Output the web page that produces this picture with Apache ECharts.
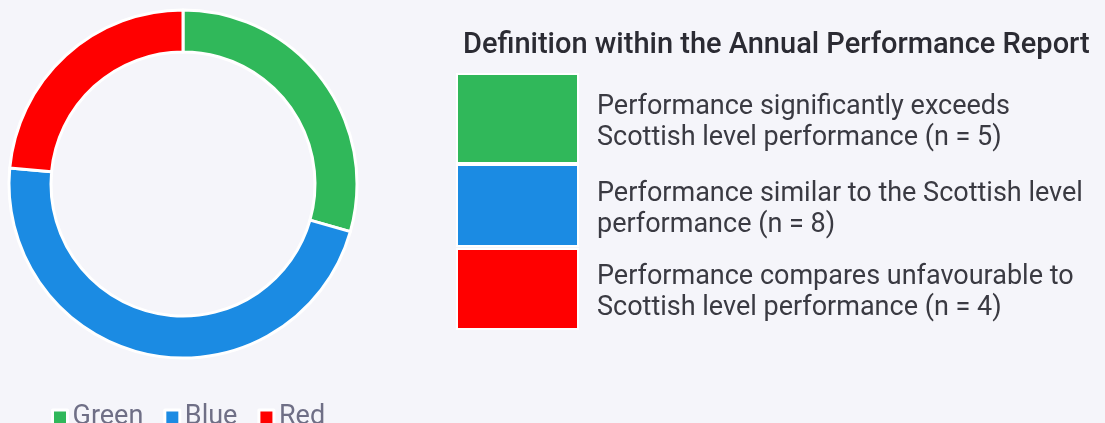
<!DOCTYPE html>
<html>
<head>
<meta charset="utf-8">
<script src="https://cdn.jsdelivr.net/npm/echarts@6/dist/echarts.min.js"></script>
<style>
  html, body { margin: 0; padding: 0; background: #f5f5fa; }
  #chart { width: 1105px; height: 423px; }
</style>
</head>
<body>
<div id="chart"></div>
<script>
// RAG categories and the number of indicators in each
const categories = ['Green', 'Blue', 'Red'];
const counts = [5, 8, 4];
const colors = ['#30b85a', '#1b8be3', '#ff0000'];

// Key table: heading and the wording for each category
const heading = 'Definition within the Annual Performance Report';
const descriptions = [
  ['Performance significantly exceeds', 'Scottish level performance'],
  ['Performance similar to the Scottish level', 'performance'],
  ['Performance compares unfavourable to', 'Scottish level performance']
];

const FONT = 'Roboto, "Noto Sans", sans-serif';

// Key table layout: colour swatch column and text column
const swatchX = 457, swatchW = 121;
const rowTops = [74, 165, 249];
const rowHeights = [89, 81, 80];
const textX = 597;

const graphics = [{
  type: 'text',
  style: {
    text: heading, x: 463, y: 46,
    fontFamily: FONT, fontSize: 29, fontWeight: 500,
    fill: '#2b2b33', verticalAlign: 'middle'
  }
}];

categories.forEach((c, i) => {
  graphics.push({
    type: 'rect',
    shape: { x: swatchX, y: rowTops[i], width: swatchW, height: rowHeights[i] },
    style: { fill: colors[i], stroke: '#ffffff', lineWidth: 2 }
  });
  graphics.push({
    type: 'text',
    style: {
      text: descriptions[i][0] + '\n' + descriptions[i][1] + ' (n = ' + counts[i] + ')',
      x: textX, y: rowTops[i] + rowHeights[i] / 2 + 4,
      fontFamily: FONT, fontSize: 27, lineHeight: 31,
      fill: '#3a3a42', verticalAlign: 'middle'
    }
  });
});

const chart = echarts.init(document.getElementById('chart'));
chart.setOption({
  backgroundColor: '#f5f5fa',
  animation: false,
  color: colors,
  legend: {
    left: 46,
    top: 399,
    itemWidth: 15,
    itemHeight: 15,
    itemGap: 20,
    icon: 'rect',
    itemStyle: { borderColor: '#ffffff', borderWidth: 3 },
    textStyle: { fontFamily: FONT, fontSize: 27, color: '#6f6f86' },
    data: categories
  },
  graphic: graphics,
  series: [{
    type: 'pie',
    center: [183, 184],
    radius: [132, 174],
    startAngle: 90,
    clockwise: true,
    label: { show: false },
    labelLine: { show: false },
    emphasis: { scale: false },
    itemStyle: { borderColor: '#ffffff', borderWidth: 3 },
    data: categories.map((c, i) => ({ name: c, value: counts[i] }))
  }]
});
</script>
</body>
</html>
